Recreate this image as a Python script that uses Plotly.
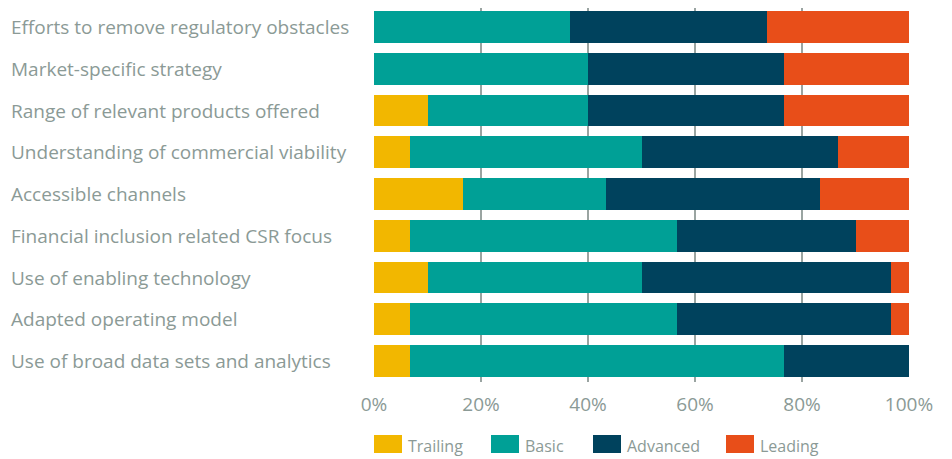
import plotly.graph_objects as go

categories = [
    "Efforts to remove regulatory obstacles",
    "Market-specific strategy",
    "Range of relevant products offered",
    "Understanding of commercial viability",
    "Accessible channels",
    "Financial inclusion related CSR focus",
    "Use of enabling technology",
    "Adapted operating model",
    "Use of broad data sets and analytics",
]
trailing = [0, 0, 10, 6.7, 16.7, 6.7, 10, 6.7, 6.7]
basic = [36.7, 40, 30, 43.3, 26.7, 50, 40, 50, 70]
advanced = [36.7, 36.7, 36.7, 36.7, 40, 33.3, 46.7, 40, 23.3]
leading = [26.7, 23.3, 23.3, 13.3, 16.7, 10, 3.3, 3.3, 0]
series_names = ["Trailing", "Basic", "Advanced", "Leading"]
colors = ["#F2B700", "#00A096", "#00425D", "#E84E19"]
tick_vals = [0, 20, 40, 60, 80, 100]
tick_text = ["0%", "20%", "40%", "60%", "80%", "100%"]

FONT = "Open Sans"
GREY = "#8B9A96"

OFF = 8  # page body margin
W, H = 952 - OFF, 459 - OFF
L, R, T, B = 366, 43, 0, 77
PW = W - L - R
PH = H - T - B


def px_x(sx):
    return (sx - OFF - L) / PW


def px_y(sy):
    return (H - B - (sy - OFF)) / PH


fig = go.Figure()
for name, vals, col in zip(series_names, [trailing, basic, advanced, leading], colors):
    fig.add_trace(go.Bar(
        y=categories, x=vals, name=name, orientation="h",
        marker=dict(color=col, line=dict(width=0)),
        showlegend=False,
    ))

for cat in categories:
    fig.add_annotation(
        x=px_x(9), y=cat, xref="paper", yref="y", text=cat,
        showarrow=False, xanchor="left", yanchor="middle",
        font=dict(family=FONT, size=19, color=GREY),
    )

# legend drawn manually to match the large swatches
leg_x = [374, 491, 593, 726]
for name, col, lx in zip(series_names, colors, leg_x):
    fig.add_shape(
        type="rect", xref="paper", yref="paper",
        x0=px_x(lx), x1=px_x(lx + 28), y0=px_y(435), y1=px_y(453),
        fillcolor=col, line=dict(width=0),
    )
    fig.add_annotation(
        x=px_x(lx + 32), y=px_y(446), xref="paper", yref="paper", text=name,
        showarrow=False, xanchor="left", yanchor="middle",
        font=dict(family=FONT, size=16, color=GREY),
    )

fig.update_layout(
    barmode="stack",
    bargap=0.234,
    width=W, height=H,
    margin=dict(l=L, r=R, t=T, b=B, autoexpand=False),
    paper_bgcolor="white", plot_bgcolor="white",
    font=dict(family=FONT, color=GREY),
    showlegend=False,
    xaxis=dict(
        range=[0, 100], tickvals=tick_vals, ticktext=tick_text,
        showgrid=True, gridcolor="#9AA4A1", griddash="solid", gridwidth=1.5,
        zeroline=False, showline=False, automargin=False,
        tickfont=dict(family=FONT, size=19, color=GREY),
        ticks="", ticklabelstandoff=9,
    ),
    yaxis=dict(
        range=[8.503, -0.455], showticklabels=False, showgrid=False,
        zeroline=False, showline=False, ticks="", automargin=False,
    ),
)

fig.write_html("out.html")
